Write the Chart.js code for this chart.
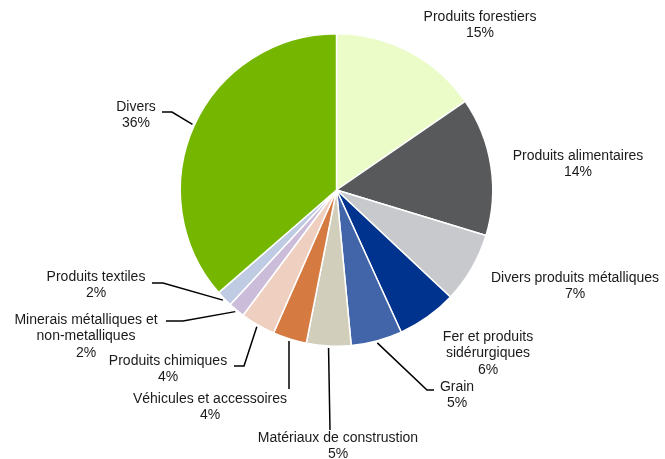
<!DOCTYPE html>
<html>
<head>
<meta charset="utf-8">
<script src="https://cdn.jsdelivr.net/npm/chart.js@4"></script>
<style>
html,body{margin:0;padding:0;background:#fff;}
canvas{display:block;}
</style>
</head>
<body>
<canvas id="c" width="665" height="459"></canvas>
<script>
// ---- data ----
const categories = [
  "Produits forestiers",
  "Produits alimentaires",
  "Divers produits métalliques",
  "Fer et produits sidérurgiques",
  "Grain",
  "Matériaux de construstion",
  "Véhicules et accessoires",
  "Produits chimiques",
  "Minerais métalliques et non-metalliques",
  "Produits textiles",
  "Divers"
];
const shares = [15.4, 14.3, 7.3, 6.2, 5.3, 4.6, 3.5, 3.6, 1.7, 1.7, 36.4];
const percentLabels = ["15%", "14%", "7%", "6%", "5%", "5%", "4%", "4%", "2%", "2%", "36%"];
const labelLines = [
  ["Produits forestiers"],
  ["Produits alimentaires"],
  ["Divers produits métalliques"],
  ["Fer et produits", "sidérurgiques"],
  ["Grain"],
  ["Matériaux de construstion"],
  ["Véhicules et accessoires"],
  ["Produits chimiques"],
  ["Minerais métalliques et", "non-metalliques"],
  ["Produits textiles"],
  ["Divers"]
];
const colors = ["#EBFCC9", "#58595B", "#C8C9CC", "#00338D", "#4165A8", "#D1CFBB",
                "#D57A41", "#EFD0C0", "#CBBDD9", "#BECBE3", "#75B700"];

// ---- label layout (text centre x, first line y, optional leader elbow/end) ----
const labelLayout = [
  {x: 480, y: 17},
  {x: 578, y: 156},
  {x: 575, y: 278},
  {x: 488, y: 337},
  {x: 457, y: 387, elbow: [427, 390], end: [434, 390]},
  {x: 338, y: 438, elbow: [330, 430], end: [330, 430]},
  {x: 210, y: 399, elbow: [289, 389], end: [289, 389]},
  {x: 168, y: 361, elbow: [244, 366], end: [234, 366]},
  {x: 86,  y: 320, elbow: [183, 321], end: [166, 321]},
  {x: 96,  y: 277, elbow: [163, 283], end: [152, 283]},
  {x: 136, y: 107, elbow: [172, 112], end: [162, 112]}
];

const labelPlugin = {
  id: 'pieLabels',
  afterDatasetsDraw(chart) {
    const ctx = chart.ctx;
    const meta = chart.getDatasetMeta(0);
    ctx.save();
    ctx.font = '14px "Liberation Sans", Arial, sans-serif';
    ctx.fillStyle = '#1a1a1a';
    ctx.textAlign = 'center';
    ctx.textBaseline = 'middle';
    const lh = 16.5;
    meta.data.forEach((arc, i) => {
      const L = labelLayout[i];
      const lines = labelLines[i].concat([percentLabels[i]]);
      lines.forEach((t, k) => ctx.fillText(t, L.x, L.y + k * lh));
      if (L.elbow) {
        const p = arc.getProps(['x', 'y', 'startAngle', 'endAngle', 'outerRadius'], true);
        const mid = (p.startAngle + p.endAngle) / 2;
        const r = p.outerRadius + 2;
        const sx = p.x + Math.cos(mid) * r;
        const sy = p.y + Math.sin(mid) * r;
        ctx.beginPath();
        ctx.strokeStyle = '#000';
        ctx.lineWidth = 1.5;
        ctx.moveTo(sx, sy);
        ctx.lineTo(L.elbow[0], L.elbow[1]);
        ctx.lineTo(L.end[0], L.end[1]);
        ctx.stroke();
      }
    });
    ctx.restore();
  }
};

new Chart(document.getElementById('c'), {
  type: 'pie',
  data: {
    labels: categories,
    datasets: [{
      data: shares,
      backgroundColor: colors,
      borderColor: '#ffffff',
      borderWidth: 1.5
    }]
  },
  options: {
    responsive: false,
    devicePixelRatio: 1,
    animation: false,
    layout: {padding: {left: 179, right: 171, top: 33, bottom: 112}},
    plugins: {
      legend: {display: false},
      tooltip: {enabled: false}
    }
  },
  plugins: [labelPlugin]
});
</script>
</body>
</html>
